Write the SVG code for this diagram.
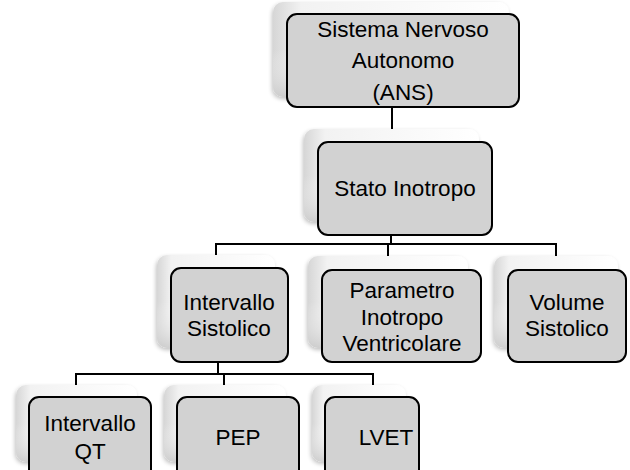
<svg xmlns="http://www.w3.org/2000/svg" width="630" height="470" viewBox="0 0 630 470">
<defs>
<linearGradient id="bg" x1="0" y1="0" x2="1" y2="0">
<stop offset="0" stop-color="#d6d6d6"/>
<stop offset="0.12" stop-color="#f2f2f2"/>
<stop offset="1" stop-color="#ffffff"/>
</linearGradient>
<linearGradient id="bgv" x1="0" y1="0" x2="0" y2="1">
<stop offset="0" stop-color="#ffffff" stop-opacity="0"/>
<stop offset="0.5" stop-color="#ffffff" stop-opacity="0"/>
<stop offset="1" stop-color="#c8c8c8" stop-opacity="0.8"/>
</linearGradient>
<filter id="sh" x="-10%" y="-10%" width="120%" height="125%">
<feGaussianBlur in="SourceAlpha" stdDeviation="2"/>
<feOffset dx="-1" dy="2" result="b"/>
<feComponentTransfer><feFuncA type="linear" slope="0.25"/></feComponentTransfer>
<feMerge><feMergeNode/><feMergeNode in="SourceGraphic"/></feMerge>
</filter>
</defs>
<style>
.back{fill:url(#bg);filter:url(#sh)}
.backv{fill:url(#bgv)}
.box{fill:#d2d2d2;stroke:#000;stroke-width:2}
.ln{fill:none;stroke:#000;stroke-width:2}
text{font-family:"Liberation Sans",Arial,sans-serif;font-size:22.5px;fill:#000;text-anchor:middle;dominant-baseline:central}
</style>
<rect width="630" height="470" fill="#fff"/>
<g id="connectors">
<path class="ln" d="M392 107V143"/>
<path class="ln" d="M391 235V244M216 256V244H556V256M388 244V256"/>
<path class="ln" d="M218 362V374M76 385V374H373V385M224 374V385"/>
</g>
<g id="n-ans">
<rect class="back" x="273" y="2" width="236" height="95" rx="10"/>
<rect class="backv" x="273" y="2" width="236" height="95" rx="10"/>
<rect class="box" x="287" y="14" width="232" height="93" rx="10"/>
<text x="403" y="29">Sistema Nervoso</text>
<text x="403" y="60">Autonomo</text>
<text x="403" y="92">(ANS)</text>
</g>
<g id="n-stato">
<rect class="back" x="304" y="129" width="175" height="93" rx="10"/>
<rect class="backv" x="304" y="129" width="175" height="93" rx="10"/>
<rect class="box" x="318" y="142" width="174" height="93" rx="10"/>
<text x="405" y="188">Stato Inotropo</text>
</g>
<g id="n-intsis">
<rect class="back" x="157" y="255" width="118" height="93" rx="10"/>
<rect class="backv" x="157" y="255" width="118" height="93" rx="10"/>
<rect class="box" x="171" y="268" width="117" height="94" rx="10"/>
<text x="229" y="302">Intervallo</text>
<text x="229" y="328">Sistolico</text>
</g>
<g id="n-param">
<rect class="back" x="308" y="256" width="160" height="92" rx="10"/>
<rect class="backv" x="308" y="256" width="160" height="92" rx="10"/>
<rect class="box" x="322" y="270" width="159" height="92" rx="10"/>
<text x="402" y="290">Parametro</text>
<text x="402" y="317">Inotropo</text>
<text x="402" y="343">Ventricolare</text>
</g>
<g id="n-vol">
<rect class="back" x="494" y="256" width="124" height="92" rx="10"/>
<rect class="backv" x="494" y="256" width="124" height="92" rx="10"/>
<rect class="box" x="508" y="270" width="118" height="92" rx="10"/>
<text x="567" y="302">Volume</text>
<text x="567" y="328">Sistolico</text>
</g>
<g id="n-qt">
<rect class="back" x="16" y="385" width="121" height="77" rx="10"/>
<rect class="backv" x="16" y="385" width="121" height="77" rx="10"/>
<rect class="box" x="29" y="397" width="122" height="90" rx="10"/>
<text x="90" y="423">Intervallo</text>
<text x="90" y="451">QT</text>
</g>
<g id="n-pep">
<rect class="back" x="164" y="385" width="122" height="77" rx="10"/>
<rect class="backv" x="164" y="385" width="122" height="77" rx="10"/>
<rect class="box" x="177" y="397" width="122" height="90" rx="10"/>
<text x="238" y="437">PEP</text>
</g>
<g id="n-lvet">
<rect class="back" x="312" y="385" width="94" height="77" rx="10"/>
<rect class="backv" x="312" y="385" width="94" height="77" rx="10"/>
<rect class="box" x="325" y="397" width="94" height="90" rx="10"/>
<text x="386" y="437">LVET</text>
</g>
</svg>
